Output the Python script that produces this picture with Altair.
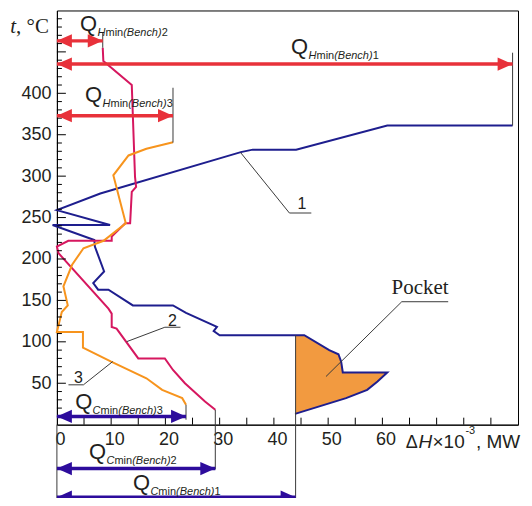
import altair as alt
import pandas as pd

# ---------------- data ----------------
# Curve 1 (blue): t, degC vs Delta H x 1e-3, MW
c1_H = [84.0, 60.9, 44.1, 36.1, 33.9, 8.0, 0.0, 9.8, -0.8, 6.9, 7.0, 8.7, 6.7, 7.6, 9.5,
        14.0, 21.4, 23.8, 29.5, 28.9, 30.0, 45.6, 50.2, 51.9, 52.4, 52.7, 60.9, 59.1,
        57.2, 53.3, 43.9]
c1_t = [361, 361, 332, 332, 329, 279, 259, 241, 241, 223, 215, 185, 171, 163, 163,
        144, 144, 135, 118, 113, 108, 108, 90, 85, 76, 63, 63, 52, 42, 32, 13]
# Curve 2 (crimson)
c2_H = [8.45, 8.56, 13.8, 14.4, 14.6, 13.8, 13.5, 12.6, 10.1, 10.1, 2.1, 0.0, 0.3, 9.5,
        10.1, 10.1, 11.0, 15.0, 19.9, 21.4, 23.6, 27.3, 29.2]
c2_t = [455, 439, 410, 299, 287, 281, 243, 243, 227, 222, 222, 215, 207, 140, 134, 118,
        116, 80, 80, 66, 50, 28, 18]
# Curve 3 (orange)
c3_H = [21.4, 16.5, 13.2, 10.4, 12.7, 8.6, 4.9, 2.8, 1.2, 2.0, 0.9, 0.0, 4.8, 4.8, 10.0,
        16.5, 19.4, 23.1, 23.8]
c3_t = [341, 333, 325, 301, 243, 222, 213, 193, 167, 144, 136, 112, 112, 93, 76, 56, 42,
        32, 24]
# Pocket of curve 1
pocket_H = [45.6, 50.2, 51.9, 52.4, 52.7, 60.9, 59.1, 57.2, 53.3, 43.9]
pocket_t = [108, 90, 85, 76, 63.2, 62.8, 52, 42, 32, 13]
pocket_base = 44.0
# Minimum utilities for bench 1, 2, 3
Q_Hmin = [84.0, 8.45, 21.4]
Q_Cmin = [44.0, 29.2, 23.8]

x_labels = [0, 10, 20, 30, 40, 50, 60]
y_labels = [50, 100, 150, 200, 250, 300, 350, 400]
x_ticks = list(range(5, 85, 5))
y_minor = [v for v in range(10, 500, 10) if v % 50]
y_major = list(range(50, 500, 50))

# ---------------- layout helpers ----------------
W, HT = 462, 415
PXH = W / 85.0
PXT = HT / 500.0
RED = "#e8313a"
BLUE_A = "#2d0c9c"
TXT = "#231f20"
GRAY = "#3a3a3a"

xs = alt.Scale(domain=[0, 85], nice=False, zero=False)
ys = alt.Scale(domain=[0, 500], nice=False, zero=False)

X_AXIS = alt.Axis(values=x_labels, title=None, ticks=False, grid=False,
                  domainColor="black", domainWidth=1, labelFont="Liberation Sans",
                  labelFontSize=18, labelColor=TXT, labelPadding=6, labelOffset=3,
                  labelOverlap=False, labelFlush=False, labelBound=False)
Y_AXIS = alt.Axis(values=y_labels, title=None, ticks=False, grid=False,
                  domainColor="black", domainWidth=1, labelFont="Liberation Sans",
                  labelFontSize=18, labelColor=TXT, labelPadding=6,
                  labelOverlap=False, labelFlush=False, labelBound=False)


def ex(f="H"):
    return alt.X(f"{f}:Q", scale=xs, axis=X_AXIS)


def ey(f="t"):
    return alt.Y(f"{f}:Q", scale=ys, axis=Y_AXIS)


# curves
curve_df = pd.concat([
    pd.DataFrame({"H": c1_H, "t": c1_t, "i": range(len(c1_H)), "s": "1"}),
    pd.DataFrame({"H": c2_H, "t": c2_t, "i": range(len(c2_H)), "s": "2"}),
    pd.DataFrame({"H": c3_H, "t": c3_t, "i": range(len(c3_H)), "s": "3"}),
], ignore_index=True)

pocket_df = pd.DataFrame({"H": pocket_H, "t": pocket_t, "base": pocket_base})
pocket = alt.Chart(pocket_df).mark_area(orient="horizontal", color="#f29a40",
                                        opacity=1).encode(
    y=ey(), x=ex("H"), x2=alt.X2("base"))

curves = alt.Chart(curve_df).mark_line(strokeWidth=2).encode(
    x=ex("H"), y=ey("t"),
    color=alt.Color("s:N", scale=alt.Scale(domain=["1", "2", "3"],
                                           range=["#1e1e8e", "#d6175f", "#f7941d"]),
                    legend=None),
    order="i:Q", detail="s:N")

# axis ticks (inside)
yminor = alt.Chart(pd.DataFrame({"t": y_minor})).mark_rule(color="black").encode(
    y=ey(), x=alt.value(0), x2=alt.value(5))
ymajor = alt.Chart(pd.DataFrame({"t": y_major})).mark_rule(color="black").encode(
    y=ey(), x=alt.value(0), x2=alt.value(9))
xtick = alt.Chart(pd.DataFrame({"H": x_ticks})).mark_rule(color="black").encode(
    x=ex(), y=alt.value(HT), y2=alt.value(HT - 7))

# vertical marker lines
vlines = pd.DataFrame({
    "H": [Q_Hmin[0], Q_Hmin[1], Q_Hmin[2], Q_Cmin[0], Q_Cmin[1], Q_Cmin[2], 0.0],
    "t0": [449, 473.3, 406.7, 108, 18, 24, 0],
    "t1": [361, 455, 340.5, -100, -54, 6, -100],
})
vl = alt.Chart(vlines).mark_rule(color=GRAY, strokeWidth=1).encode(
    x=ex(), y=ey("t0"), y2=alt.Y2("t1"))

# arrows
arr_df = pd.DataFrame({
    "x0": [0.0] * 6,
    "x1": Q_Hmin + Q_Cmin,
    "t": [435.3, 463.3, 373.0, -87.5, -53.0, 10.0],
    "c": [RED] * 3 + [BLUE_A] * 3,
})
shafts = alt.Chart(arr_df).mark_rule(strokeWidth=3.5).encode(
    x=ex("x0"), x2=alt.X2("x1"), y=ey("t"), color=alt.Color("c:N", scale=None))
LEFT = "M0,0L2,-0.89L2,0.89Z"
RIGHT = "M0,0L-2,-0.89L-2,0.89Z"
head_l = alt.Chart(arr_df).mark_point(shape=LEFT, filled=True, size=225, opacity=1,
                                      strokeWidth=0).encode(
    x=ex("x0"), y=ey("t"), color=alt.Color("c:N", scale=None))
head_r = alt.Chart(arr_df).mark_point(shape=RIGHT, filled=True, size=225, opacity=1,
                                      strokeWidth=0).encode(
    x=ex("x1"), y=ey("t"), color=alt.Color("c:N", scale=None))

# leader lines
lead = pd.DataFrame({
    "g": ["1"] * 3 + ["2"] * 3 + ["3"] * 3 + ["P"] * 3,
    "i": [0, 1, 2] * 4,
    "H": [33.86, 42.86, 46.9, 12.86, 19.9, 22.78, 10.29, 4.89, 2.13, 49.6, 63.57, 72.13],
    "t": [328.5, 255.5, 255.5, 100.2, 117.6, 117.6, 76.2, 48.1, 48.1, 58.1, 148.4, 148.4],
})
leaders = alt.Chart(lead).mark_line(color=GRAY, strokeWidth=1).encode(
    x=ex(), y=ey(), detail="g:N", order="i:Q")

# ---------------- texts ----------------
SUB_W = {"H": 0.722, "C": 0.722, "min": 1.611, "(Bench)": 3.501,
         "1": 0.556, "2": 0.556, "3": 0.556}
items = []  # H, t, text, size, family, style


def q_label(hq, tq, letter, k):
    items.append((hq, tq, "Q", 22, "sans", "normal"))
    h0 = hq + (0.778 * 22 + 0.4) / PXH
    ts = tq - 4.5 / PXT
    for piece, style in [(letter, "italic"), ("min", "normal"),
                         ("(Bench)", "italic"), (str(k), "normal")]:
        items.append((h0, ts, piece, 11, "sans", style))
        h0 += SUB_W[piece] * 11 / PXH


q_label(4.28, 474.7, "H", 2)
q_label(43.17, 447.1, "H", 1)
q_label(5.2, 389.3, "H", 3)
q_label(3.36, 18.7, "C", 3)
q_label(5.93, -41.5, "C", 2)
q_label(14.02, -79.4, "C", 1)

items += [
    (44.34, 260.0, "1", 16, "sans", "normal"),
    (20.46, 119.1, "2", 16, "sans", "normal"),
    (3.15, 50.5, "3", 16, "sans", "normal"),
    (61.7, 157.6, "Pocket", 21, "serif", "normal"),
    (-8.58, 473.3, "t", 21, "serif", "italic"),
    (-7.52, 473.3, ", °C", 21, "serif", "normal"),
    (64.30, -28.0, "Δ", 18, "sans", "normal"),
    (66.66, -28.0, "H", 19, "sans", "italic"),
    (69.24, -28.0, "×10", 19, "sans", "normal"),
    (75.31, -10.8, "-3", 11, "sans", "normal"),
    (77.24, -28.0, ", MW", 19, "sans", "normal"),
]
txt_df = pd.DataFrame(items, columns=["H", "t", "txt", "fs", "fam", "sty"])

fonts = {"sans": "Liberation Sans", "serif": "Liberation Serif"}
text_layers = []
for fam in ["sans", "serif"]:
    for sty in ["normal", "italic"]:
        sub = txt_df[(txt_df.fam == fam) & (txt_df.sty == sty)]
        if len(sub) == 0:
            continue
        text_layers.append(
            alt.Chart(sub).mark_text(align="left", baseline="alphabetic",
                                     font=fonts[fam], fontStyle=sty, color=TXT).encode(
                x=ex(), y=ey(), text="txt:N", size=alt.Size("fs:Q", scale=None)))

chart = alt.layer(
    pocket, curves, yminor, ymajor, xtick, vl, leaders, shafts, head_l, head_r,
    *text_layers
).properties(
    width=W, height=HT,
    autosize=alt.AutoSizeParams(type="none"),
    padding={"left": 49, "top": 2, "right": 6, "bottom": 73},
    background="white",
).configure_view(stroke="black", strokeWidth=1)

chart.save("out.html", embed_options={"renderer": "svg", "actions": False})
